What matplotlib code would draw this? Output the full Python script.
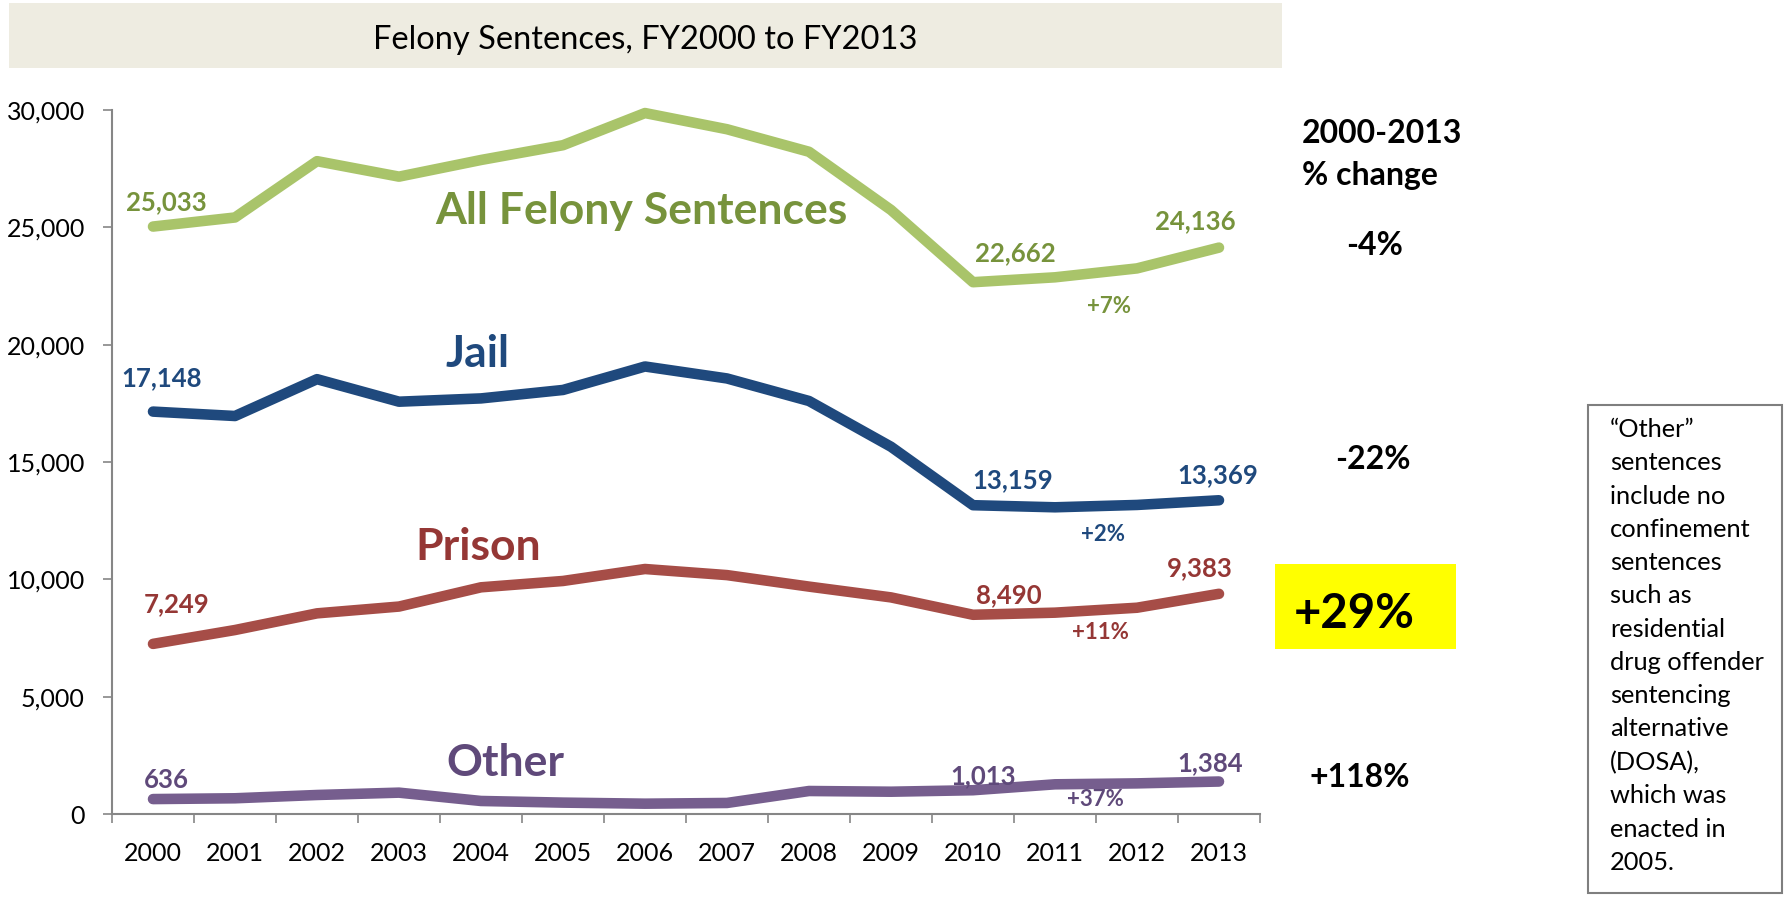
import matplotlib.pyplot as plt
from matplotlib.patches import Rectangle
from matplotlib.ticker import FixedLocator, FuncFormatter

plt.rcParams['font.family'] = ['Lato', 'DejaVu Sans']

# data
years = list(range(2000, 2014))
all_felony = [25033, 25420, 27820, 27160, 27870, 28500, 29870, 29180, 28220, 25740, 22662, 22870, 23250, 24136]
jail = [17148, 16960, 18530, 17570, 17710, 18070, 19070, 18560, 17600, 15650, 13159, 13070, 13170, 13369]
prison = [7249, 7840, 8550, 8840, 9660, 9930, 10440, 10180, 9690, 9230, 8490, 8580, 8790, 9383]
other = [636, 670, 810, 910, 555, 485, 440, 470, 980, 950, 1013, 1265, 1305, 1384]
series_names = ['All Felony Sentences', 'Jail', 'Prison', 'Other']
pct_2000_2013 = ['-4%', '-22%', '+29%', '+118%']
pct_2010_2013 = ['+7%', '+2%', '+11%', '+37%']
note_lines = ['\u201cOther\u201d', 'sentences', 'include no', 'confinement', 'sentences',
              'such as', 'residential', 'drug offender', 'sentencing', 'alternative',
              '(DOSA),', 'which was', 'enacted in', '2005.']

line_colors = ['#A9C46A', '#1F497D', '#A64D47', '#765E8E']
text_colors = ['#77933C', '#1F497D', '#953735', '#5F497A']

W, H = 1787, 901


def fx(x):
    return x / W


def fy(y):
    return 1 - y / H


fig = plt.figure(figsize=(W / 100, H / 100), dpi=100)
fig.patch.set_facecolor('white')

# title banner
fig.patches.append(Rectangle((fx(9), fy(68)), (1282 - 9) / W, 65 / H,
                             transform=fig.transFigure, facecolor='#EEECE1', edgecolor='none'))
fig.text(fx(645), fy(40), 'Felony Sentences, FY2000 to FY2013', ha='center', va='center',
         fontsize=23.5, color='black')

ax = fig.add_axes([fx(112), fy(814), (1260 - 112) / W, (814 - 110) / H])
x = list(range(len(years)))
all_series = [all_felony, jail, prison, other]
for vals, col in zip(all_series, line_colors):
    ax.plot(x, vals, color=col, lw=7.6, solid_capstyle='round', solid_joinstyle='round',
            clip_on=False, zorder=3)

ax.set_xlim(-0.5, 13.5)
ax.set_ylim(0, 30000)
for s in ['top', 'right']:
    ax.spines[s].set_visible(False)
for s in ['left', 'bottom']:
    ax.spines[s].set_color('#868686')
    ax.spines[s].set_linewidth(1.5)

ax.yaxis.set_major_locator(FixedLocator(range(0, 30001, 5000)))
ax.yaxis.set_major_formatter(FuncFormatter(lambda v, p: f'{int(v):,}'))
ax.tick_params(axis='y', direction='out', length=6.5, width=1.2, color='#868686',
               labelsize=18, pad=13)
ax.xaxis.set_major_locator(FixedLocator(x))
ax.set_xticklabels([str(y) for y in years])
ax.xaxis.set_minor_locator(FixedLocator([i - 0.5 for i in range(len(years) + 1)]))
ax.tick_params(axis='x', which='major', length=0, labelsize=18, pad=20)
ax.tick_params(axis='x', which='minor', direction='out', length=6.5, width=1.2, color='#868686')

# series names
name_pos = [(641, 224), (477, 367), (478, 560), (505, 776)]
for name, (px, py), col in zip(series_names, name_pos, text_colors):
    fig.text(fx(px), fy(py), name, ha='center', va='baseline', fontsize=32,
             fontweight='bold', color=col)

# value labels: (series index, year index, offset px)
value_labels = [
    (0, 0, (13, 24)), (0, 10, (42, 29)), (0, 13, (-24, 26)),
    (1, 0, (9, 33)), (1, 10, (40, 25)), (1, 13, (-1, 25)),
    (2, 0, (24, 40)), (2, 10, (36, 20)), (2, 13, (-19, 26)),
    (3, 0, (13, 19)), (3, 10, (10, 14)), (3, 13, (-9, 18)),
]
for si, yi, off in value_labels:
    v = all_series[si][yi]
    ax.annotate(f'{v:,}', xy=(yi, v), xytext=off, textcoords='offset pixels',
                ha='center', va='center', fontsize=18.5, fontweight='bold',
                color=text_colors[si], zorder=4, annotation_clip=False)

# 2010-2013 change labels, anchored at 2011
pct_offsets = [(54, -29), (48, -27), (45, -20), (40, -15)]
for si, (lbl, off) in enumerate(zip(pct_2010_2013, pct_offsets)):
    ax.annotate(lbl, xy=(11, all_series[si][11]), xytext=off, textcoords='offset pixels',
                ha='center', va='center', fontsize=16, fontweight='bold',
                color=text_colors[si], zorder=4, annotation_clip=False)

# 2000-2013 % change column
fig.text(fx(1302), fy(143), '2000-2013', ha='left', va='baseline', fontsize=23,
         fontweight='bold')
fig.text(fx(1302), fy(185), '% change', ha='left', va='baseline', fontsize=23,
         fontweight='bold')
fig.patches.append(Rectangle((fx(1275), fy(649)), (1456 - 1275) / W, (649 - 564) / H,
                             transform=fig.transFigure, facecolor='#FFFF00', edgecolor='none'))
pct_pos = [(1375, 255), (1373, 469), (1354, 628), (1360, 787)]
pct_size = [23, 23, 34, 23]
for lbl, (px, py), fs in zip(pct_2000_2013, pct_pos, pct_size):
    fig.text(fx(px), fy(py), lbl, ha='center', va='baseline', fontsize=fs, fontweight='bold')

# note box
fig.patches.append(Rectangle((fx(1588), fy(893)), (1782 - 1588) / W, (893 - 405) / H,
                             transform=fig.transFigure, facecolor='white', edgecolor='#7F7F7F',
                             lw=1.5))
fig.text(fx(1610), fy(418), '\n'.join(note_lines), ha='left', va='top', fontsize=18.3,
         linespacing=1.54)

fig.savefig('out.png', dpi=100)
